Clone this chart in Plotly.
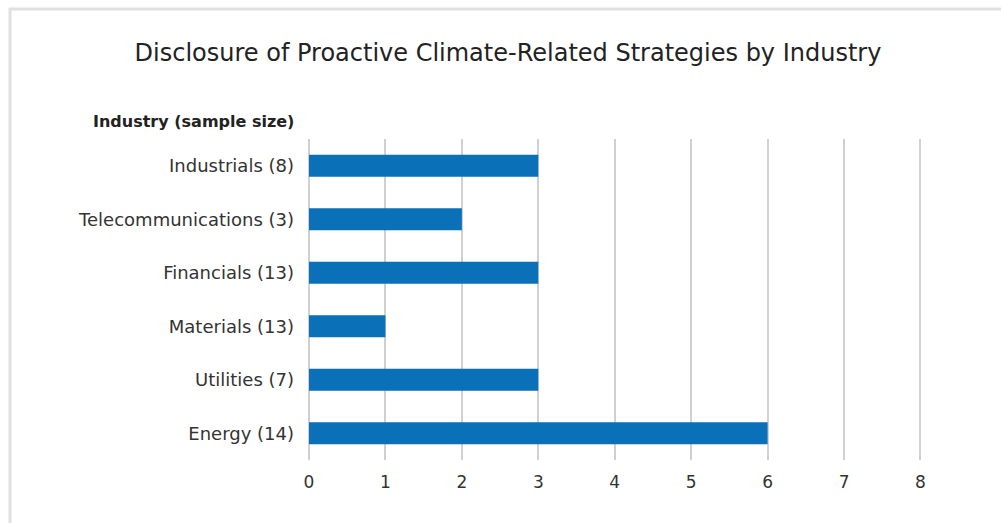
import plotly.graph_objects as go

categories = ["Energy (14)", "Utilities (7)", "Materials (13)", "Financials (13)",
              "Telecommunications (3)", "Industrials (8)"]
values = [6, 3, 1, 3, 2, 3]
x_ticks = [0, 1, 2, 3, 4, 5, 6, 7, 8]

W, H = 1001, 523
ML, MR, MT, MB = 309, 79, 139, 63
pw, ph = W - ML - MR, H - MT - MB

def px_x(p):
    return (p - ML) / pw

def px_y(p):
    return (H - MB - p) / ph

font = "DejaVu Sans"
fig = go.Figure(go.Bar(
    x=values, y=categories, orientation="h",
    marker=dict(color="#0a70b8", line=dict(width=0)),
    width=0.41,
))

fig.update_layout(
    width=W, height=H,
    margin=dict(l=ML, r=MR, t=MT, b=MB),
    paper_bgcolor="white", plot_bgcolor="white",
    font=dict(family=font, color="#333333", size=16),
    title=dict(text="Disclosure of Proactive Climate-Related Strategies by Industry",
               x=508 / W, xanchor="center", y=1 - 53 / H, yanchor="middle",
               font=dict(size=24, color="#222222", family=font)),
    showlegend=False,
)
fig.update_xaxes(range=[0, 8.02], tickvals=x_ticks, showgrid=True, gridcolor="#d0d0d0",
                 gridwidth=1.5, zeroline=True, zerolinecolor="#d0d0d0", zerolinewidth=1.5,
                 showline=False, ticks="", ticklabelstandoff=10,
                 tickfont=dict(size=17, color="#333333"), fixedrange=True)
fig.update_yaxes(showgrid=False, ticks="", ticklabelstandoff=14,
                 tickfont=dict(size=18, color="#333333"), fixedrange=True)

fig.add_annotation(text="<b>Industry (sample size)</b>", xref="paper", yref="paper",
                   x=px_x(296), y=px_y(121), xanchor="right", yanchor="middle",
                   showarrow=False, font=dict(size=16, color="#222222", family=font))

border = "#e0e0e0"
fig.add_shape(type="line", xref="paper", yref="paper",
              x0=px_x(9), x1=px_x(1010), y0=px_y(9), y1=px_y(9),
              line=dict(color=border, width=3))
fig.add_shape(type="line", xref="paper", yref="paper",
              x0=px_x(10), x1=px_x(10), y0=px_y(8), y1=px_y(530),
              line=dict(color=border, width=3))

fig.write_html("out.html", config={"displayModeBar": False},
               post_script="document.body.style.margin='0';")
